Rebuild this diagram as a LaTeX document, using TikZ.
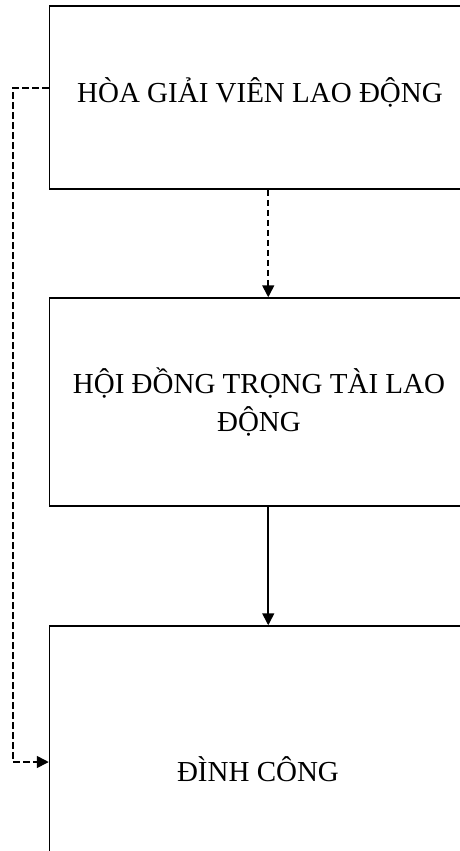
\documentclass[tikz,border=0pt]{standalone}
\usepackage{fontspec}
\setmainfont{Liberation Serif}
\usetikzlibrary{arrows.meta}
\tikzset{
  stage/.style={draw, line width=1.5pt, rectangle, minimum width=437.5pt, inner sep=0pt},
  caption/.style={font=\fontsize{29}{38}\selectfont, align=center, inner sep=0pt},
  flow/.style={line width=1.6pt, -{Triangle[length=12pt,width=12pt]}},
  maybe/.style={flow, dash pattern=on 6.5pt off 3.5pt},
}
\begin{document}
\begin{tikzpicture}[x=1pt,y=-1pt]
  \useasboundingbox (0,0) rectangle (460,851);

  % the three stages
  \node[stage, minimum height=183pt] (hgv) at (268.25,97.5) {};
  \node[stage, minimum height=208pt] (hdtt) at (268.25,402) {};
  \node[stage, minimum height=304pt] (dc) at (268.25,778) {};

  % stage titles (base anchor sits on the last line)
  \node[caption, anchor=base] (thgv) at (260,102) {HÒA GIẢI VIÊN LAO ĐỘNG};
  \node[caption, anchor=base] (thdtt) at (259,431) {HỘI ĐỒNG TRỌNG TÀI LAO\\ĐỘNG};
  \node[caption, anchor=base] (tdc) at (258,781) {ĐÌNH CÔNG};

  % connectors
  \coordinate (bend1) at (13,88);
  \coordinate (bend2) at (13,762);
  \draw[maybe] (hgv.south) -- (hdtt.north);
  \draw[flow] (hdtt.south) -- (dc.north);
  \draw[maybe] (hgv.west |- bend1) -- (bend1) -- (bend2) -- (dc.west |- bend2);
\end{tikzpicture}
\end{document}
